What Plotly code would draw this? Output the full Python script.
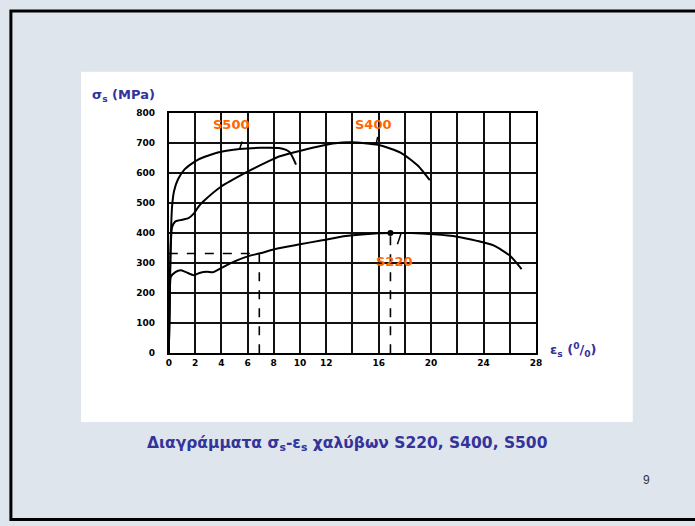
import plotly.graph_objects as go

W, H = 695, 526

# ---- data ----
s500_strain = [0, 0.1, 0.15, 0.25, 0.4, 0.7, 1.2, 2.2, 3.9, 5.4, 7.0, 8.4, 9.2, 9.7]
s500_stress = [0, 250, 380, 490, 540, 579, 612, 644, 670, 680, 684, 683, 670, 628]

s400_strain = [0, 0.08, 0.15, 0.25, 0.5, 1.1, 1.5, 1.9, 2.3, 2.6, 4.0, 5.9, 7.7, 8.4, 10.2, 12.7, 13.9, 16.0, 17.7, 19.0, 19.9]
s400_stress = [0, 250, 360, 420, 439, 445, 450, 465, 490, 504, 555, 602, 641, 655, 676, 699, 702, 693, 667, 624, 576]

s220_strain = [0, 0.08, 0.15, 0.5, 0.9, 1.3, 1.9, 2.4, 2.9, 3.4, 4.1, 5.2, 6.2, 6.9, 8.2, 9.9, 11.7, 13.5, 15.2, 16.9, 18.5, 20.2, 22.0, 23.5, 24.8, 26.0, 26.9]
s220_stress = [0, 200, 254, 270, 276, 270, 260, 268, 271, 270, 286, 309, 325, 332, 348, 362, 376, 390, 397, 400, 400, 396, 388, 374, 358, 325, 280]

# dashed construction lines
yield_h_x = [0, 6.9]
yield_h_y = [332, 332]
yield_v_x = [6.9, 6.9]
yield_v_y = [0, 332]
peak_v_x = [16.9, 16.9]
peak_v_y = [0, 400]
peak_pt_x = [16.9]
peak_pt_y = [400]

x_tickvals = [0, 2, 4, 6, 8, 10, 12, 16, 20, 24, 28]
y_tickvals = [0, 100, 200, 300, 400, 500, 600, 700, 800]

series_labels = ["S500", "S400", "S220"]
label_x = [4.8, 15.6, 17.2]
label_y = [762, 762, 306]
# points on each curve that the small leader marks touch
leader_x = [5.4, 15.8, 17.7]
leader_y = [680, 695, 398]

caption = "Διαγράμματα σ<sub>s</sub>-ε<sub>s</sub> χαλύβων S220, S400, S500"
page_no = "9"

BLUE = "#333399"
ORANGE = "#ff6600"
BG = "#dee5ed"
FONT = "DejaVu Sans"

fig = go.Figure()
line_style = dict(color="black", width=2, shape="spline", smoothing=0.6)
for xs, ys in [(s500_strain, s500_stress), (s400_strain, s400_stress), (s220_strain, s220_stress)]:
    fig.add_trace(go.Scatter(x=xs, y=ys, mode="lines", line=line_style, hoverinfo="skip"))

dash = dict(color="black", width=1.6, dash="dash")
for xs, ys in [(yield_h_x, yield_h_y), (yield_v_x, yield_v_y), (peak_v_x, peak_v_y)]:
    fig.add_trace(go.Scatter(x=xs, y=ys, mode="lines", line=dash, hoverinfo="skip"))
fig.add_trace(go.Scatter(x=peak_pt_x, y=peak_pt_y, mode="markers",
                         marker=dict(color="black", size=6), hoverinfo="skip"))

for t, lx, ly in zip(series_labels, label_x, label_y):
    fig.add_annotation(x=lx, y=ly, text=t, showarrow=False,
                       font=dict(family=FONT, size=13, color=ORANGE, weight="bold"))

leader_offsets = [(3, -9), (2, -9), (-4, 12)]
for px, py, (ax, ay) in zip(leader_x, leader_y, leader_offsets):
    fig.add_annotation(x=px, y=py, text="", showarrow=True, arrowhead=0,
                       arrowwidth=1.5, arrowcolor="black", ax=ax, ay=ay)

x0p, x1p = 168 / W, 540 / W
y0p, y1p = (H - 355) / H, (H - 110) / H

axis_common = dict(showline=True, linecolor="black", linewidth=2, mirror=True,
                   showgrid=True, gridcolor="#111111", gridwidth=1.6,
                   zeroline=False, ticks="",
                   tickfont=dict(family=FONT, size=9, color="black", weight="bold"))
fig.update_xaxes(range=[0, 28], domain=[x0p, x1p], tickvals=x_tickvals,
                 minor=dict(tick0=0, dtick=2, showgrid=True, gridcolor="#111111", gridwidth=1.6),
                 **axis_common)
fig.update_yaxes(range=[0, 800], domain=[y0p, y1p], tickvals=y_tickvals,
                 ticklabelstandoff=10, **axis_common)

# axis titles as annotations
fig.add_annotation(xref="paper", yref="paper", x=88 / W, y=(H - 103) / H,
                   xanchor="left", yanchor="bottom",
                   text="σ<sub>s</sub> (MPa)", showarrow=False,
                   font=dict(family=FONT, size=13, color=BLUE, weight="bold"))
fig.add_annotation(xref="paper", yref="paper", x=552 / W, y=(H - 363) / H, xanchor="left",
                   text="ε<sub>s</sub> (<sup>0</sup>/<sub>0</sub>)", showarrow=False,
                   font=dict(family=FONT, size=13, color=BLUE, weight="bold"))
fig.add_annotation(xref="paper", yref="paper", x=349 / W, y=(H - 460) / H,
                   text=caption, showarrow=False,
                   font=dict(family=FONT, size=15.5, color=BLUE, weight="bold"))
fig.add_annotation(xref="paper", yref="paper", x=658 / W, y=(H - 493) / H,
                   text=page_no, showarrow=False,
                   font=dict(family="Liberation Sans", size=12, color="#333333"))

# white picture panel and slide border
fig.add_shape(type="rect", xref="paper", yref="paper", layer="below",
              x0=79 / W, x1=638 / W, y0=(H - 425) / H, y1=(H - 68) / H,
              fillcolor="white", line=dict(width=0))
fig.add_shape(type="rect", xref="paper", yref="paper", layer="above",
              x0=8 / W, x1=1.02, y0=(H - 524.5) / H, y1=(H - 6) / H,
              fillcolor="rgba(0,0,0,0)", line=dict(color="black", width=3))

fig.update_layout(width=W, height=H, margin=dict(l=0, r=0, t=0, b=0),
                  paper_bgcolor=BG, plot_bgcolor="white", showlegend=False)

fig.write_html("out.html", config={"displayModeBar": False},
               post_script="document.body.style.margin='0';document.body.style.padding='0';"
                           "document.documentElement.style.overflow='hidden';")
